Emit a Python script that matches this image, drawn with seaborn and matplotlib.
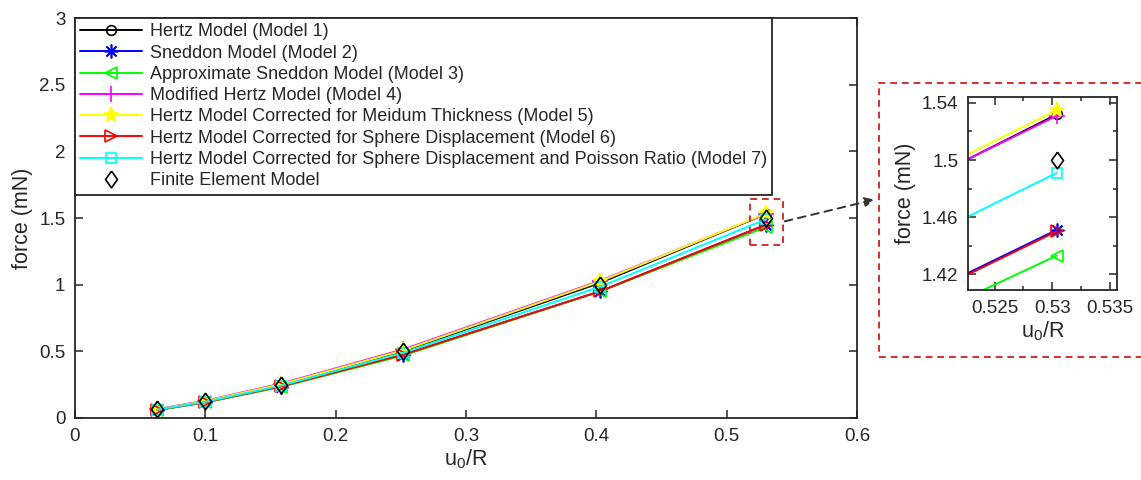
import matplotlib
matplotlib.use("Agg")
import matplotlib.pyplot as plt
import seaborn as sns
from matplotlib.patches import Rectangle, FancyArrowPatch
from matplotlib.ticker import MultipleLocator, FuncFormatter

# ---------------- data ----------------
x_ratio = [0.063, 0.100, 0.158, 0.252, 0.403, 0.5304]

hertz = [0.063, 0.125, 0.249, 0.502, 1.014, 1.532]
sneddon = [0.060, 0.118, 0.236, 0.476, 0.951, 1.451]
approx_sneddon = [0.059, 0.117, 0.233, 0.469, 0.950, 1.433]
modified_hertz = [0.066, 0.130, 0.258, 0.515, 1.030, 1.531]
hertz_thickness = [0.064, 0.127, 0.253, 0.508, 1.025, 1.535]
hertz_sphere = [0.060, 0.119, 0.237, 0.476, 0.950, 1.450]
hertz_sphere_poisson = [0.062, 0.122, 0.243, 0.490, 0.985, 1.491]
finite_element = [0.070, 0.130, 0.250, 0.500, 1.000, 1.500]

labels = [
    "Hertz Model (Model 1)",
    "Sneddon Model (Model 2)",
    "Approximate Sneddon Model (Model 3)",
    "Modified Hertz Model (Model 4)",
    "Hertz Model Corrected for Meidum Thickness (Model 5)",
    "Hertz Model Corrected for Sphere Displacement (Model 6)",
    "Hertz Model Corrected for Sphere Displacement and Poisson Ratio (Model 7)",
    "Finite Element Model",
]
series = [hertz, sneddon, approx_sneddon, modified_hertz, hertz_thickness,
          hertz_sphere, hertz_sphere_poisson, finite_element]

diamond = [(0, 1), (0.72, 0), (0, -1), (-0.72, 0), (0, 1)]
# styles: color, marker, filled, markersize, linestyle
styles = [
    ("#000000", "o", False, 7, "-"),
    ("#0000FF", (8, 2, 0), False, 10, "-"),
    ("#00FF00", "<", False, 8, "-"),
    ("#FF00FF", "+", False, 11, "-"),
    ("#FFFF00", "*", True, 11, "-"),
    ("#FF0000", ">", False, 8, "-"),
    ("#00FFFF", "s", False, 6.5, "-"),
    ("#000000", diamond, False, 12, "none"),
]

sns.set_style("ticks")
plt.rcParams["font.family"] = ["Liberation Sans", "DejaVu Sans"]
plt.rcParams["mathtext.fontset"] = "custom"
plt.rcParams["mathtext.rm"] = "Liberation Sans"
plt.rcParams["mathtext.it"] = "Liberation Sans:italic"
plt.rcParams["mathtext.default"] = "regular"

W, H = 1141, 480
fig = plt.figure(figsize=(W / 100, H / 100), dpi=100)
ax = fig.add_axes([75 / W, 1 - 418 / H, 782 / W, 400 / H])
axin = fig.add_axes([968 / W, 1 - 290 / H, 149 / W, 193 / H])

axis_col = "#262626"
for a in (ax, axin):
    for lab, vals, (c, m, filled, ms, ls) in zip(labels, series, styles):
        sns.lineplot(x=x_ratio, y=vals, ax=a, color=c, marker=m,
                     markersize=ms, markerfacecolor=c if filled else "none",
                     markeredgecolor=c, markeredgewidth=1.2, linewidth=1.4,
                     linestyle=ls, errorbar=None, sort=False,
                     label=lab if a is ax else None, legend=False)
    if a.get_legend() is not None:
        a.get_legend().remove()

fmt = FuncFormatter(lambda v, p: f"{v:g}")

# main axes
ax.set_xlim(0, 0.6)
ax.set_ylim(0, 3)
ax.xaxis.set_major_locator(MultipleLocator(0.1))
ax.yaxis.set_major_locator(MultipleLocator(0.5))
ax.xaxis.set_major_formatter(fmt)
ax.yaxis.set_major_formatter(fmt)
ax.set_xlabel("u$_0$/R", fontsize=15.5, color=axis_col, labelpad=2)
ax.set_ylabel("force (mN)", fontsize=15.5, color=axis_col, labelpad=4)

# inset axes
axin.set_xlim(0.52268, 0.53563)
axin.set_ylim(1.4088, 1.5442)
axin.xaxis.set_major_locator(MultipleLocator(0.005))
axin.xaxis.set_minor_locator(MultipleLocator(0.0025))
axin.yaxis.set_minor_locator(MultipleLocator(0.02))
axin.set_yticks([1.42, 1.46, 1.50, 1.54])
axin.xaxis.set_major_formatter(fmt)
axin.yaxis.set_major_formatter(fmt)
axin.set_xlabel("u$_0$/R", fontsize=15.5, color=axis_col, labelpad=2)
axin.set_ylabel("force (mN)", fontsize=15.5, color=axis_col, labelpad=4)

for a in (ax, axin):
    for s in a.spines.values():
        s.set_visible(True)
        s.set_color(axis_col)
        s.set_linewidth(1.3)
    a.tick_params(which="both", direction="in", top=True, right=True,
                  color=axis_col, labelcolor=axis_col, labelsize=13.5,
                  width=1.1)
    a.tick_params(which="major", length=6, pad=7)
    a.tick_params(which="minor", length=3)

# legend
h, l = ax.get_legend_handles_labels()
leg = ax.legend(h, l, loc="upper left", bbox_to_anchor=(0, 1),
                borderaxespad=0, frameon=True, fancybox=False,
                edgecolor=axis_col, fontsize=13, handlelength=3.4,
                labelspacing=0.235, borderpad=0.3, handletextpad=0.45,
                framealpha=1)
leg.get_frame().set_linewidth(1.3)
for t in leg.get_texts():
    t.set_color(axis_col)

# zoom box in main axes
ax.add_patch(Rectangle((0.5177, 1.298), 0.0253, 0.345, fill=False,
                       edgecolor="#D0302F", linestyle=(0, (3.5, 2.5)),
                       linewidth=1.4, clip_on=False, zorder=5))

# outer dashed box around inset
fig.add_artist(Rectangle((879 / W, 1 - 357 / H), 0.30, 274 / H,
                         transform=fig.transFigure, fill=False,
                         edgecolor="#D0302F", linestyle=(0, (3.5, 2.5)),
                         linewidth=1.4))

# arrow
fig.add_artist(FancyArrowPatch((782 / W, 1 - 222 / H), (877 / W, 1 - 199 / H),
                               transform=fig.transFigure, arrowstyle="-|>",
                               mutation_scale=14, linestyle=(0, (4, 3)),
                               color="#333333", linewidth=1.4))

fig.savefig("out.png", dpi=100)
